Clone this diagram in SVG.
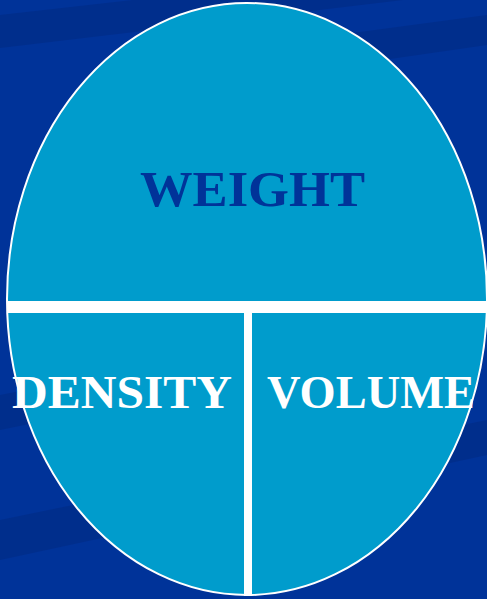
<svg xmlns="http://www.w3.org/2000/svg" width="487" height="599" viewBox="0 0 487 599">
<style>
.lbl{font-family:"Liberation Serif","Times New Roman",serif;font-weight:bold;}
.band{fill:#002a80;opacity:0.5;}
</style>
<rect width="487" height="599" fill="#003399"/>
<g id="bg-bands">
<polygon class="band" points="0,15 487,-40 487,-10 0,48"/>
<polygon class="band" points="300,40 487,15 487,45 300,72"/>
<polygon class="band" points="0,395 487,300 487,330 0,430"/>
<polygon class="band" points="0,520 487,420 487,455 0,560"/>
</g>
<g id="oval">
<ellipse cx="247" cy="299" rx="240" ry="296" fill="#009ccc" stroke="#ffffff" stroke-width="2"/>
</g>
<g id="connectors">
<rect x="8" y="301" width="479" height="12" fill="#ffffff"/>
<rect x="244" y="313" width="8" height="283" fill="#ffffff"/>
</g>
<g id="weight">
<text class="lbl" x="140" y="206" font-size="51" fill="#003399" textLength="225" lengthAdjust="spacingAndGlyphs">WEIGHT</text>
</g>
<g id="density">
<text class="lbl" x="12" y="408" font-size="46" fill="#ffffff" textLength="220" lengthAdjust="spacingAndGlyphs">DENSITY</text>
</g>
<g id="volume">
<text class="lbl" x="267" y="408" font-size="46" fill="#ffffff" textLength="208" lengthAdjust="spacingAndGlyphs">VOLUME</text>
</g>
</svg>
